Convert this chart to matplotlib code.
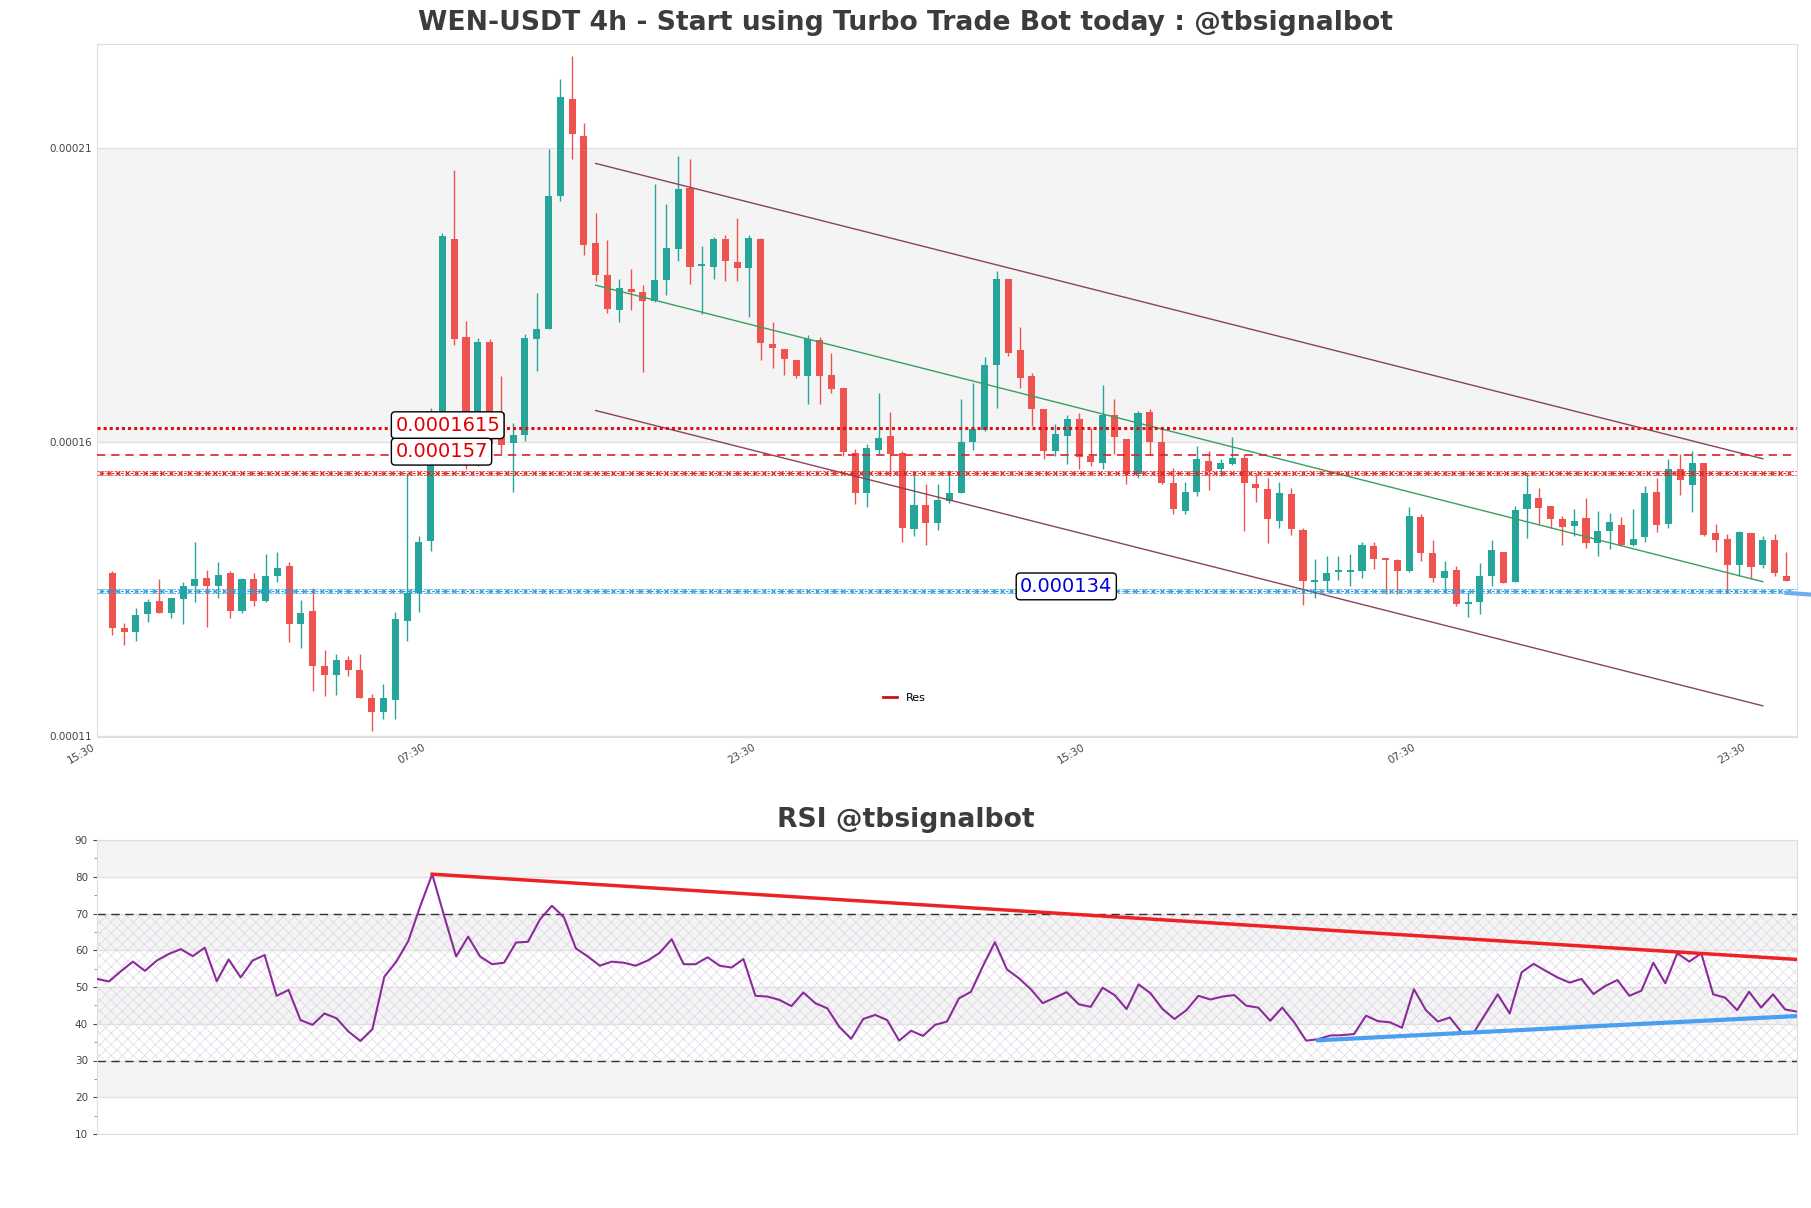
import matplotlib
matplotlib.use("Agg")
import matplotlib.pyplot as plt
from matplotlib.lines import Line2D
import numpy as np

title = "WEN-USDT 4h - Start using Turbo Trade Bot today : @tbsignalbot"
rsi_title = "RSI @tbsignalbot"

# prices are in units of 1e-5 USDT
opens = [13.76, 12.83, 12.76, 13.07, 13.29, 13.09, 13.33, 13.54, 13.69, 13.55,
         13.77, 13.13, 13.66, 13.30, 13.72, 13.88, 12.90, 13.12, 12.19, 12.04,
         12.29, 12.12, 11.65, 11.40, 11.61, 12.96, 13.42, 14.31, 15.87, 19.44,
         17.78, 15.98, 17.69, 16.49, 15.98, 16.11, 17.74, 17.91, 20.17, 21.83,
         21.20, 19.38, 18.84, 18.24, 18.59, 18.55, 18.39, 18.74, 19.28, 20.32,
         18.99, 18.97, 19.44, 19.06, 18.96, 19.44, 17.66, 17.58, 17.39, 17.12,
         17.73, 17.14, 16.92, 15.80, 15.13, 15.86, 16.09, 15.80, 14.51, 14.92,
         14.61, 14.99, 15.12, 16.00, 16.20, 17.30, 18.76, 17.55, 17.12, 16.56,
         15.84, 16.10, 16.38, 15.75, 15.64, 16.46, 16.05, 15.45, 16.51, 16.00,
         15.29, 14.83, 15.15, 15.68, 15.53, 15.62, 15.73, 15.28, 15.20, 14.65,
         15.11, 14.50, 13.62, 13.64, 13.79, 13.78, 13.81, 14.22, 14.01, 13.99,
         13.81, 14.72, 14.11, 13.69, 13.82, 13.24, 13.27, 13.72, 14.13, 13.61,
         14.86, 15.05, 14.90, 14.68, 14.57, 14.71, 14.27, 14.49, 14.59, 14.25,
         14.38, 15.14, 14.60, 15.54, 15.27, 15.63, 14.44, 14.35, 13.91, 14.44,
         13.91, 14.33, 13.71]
highs = [13.81, 12.91, 13.17, 13.32, 13.67, 13.35, 13.61, 14.29, 13.82, 13.96,
         13.81, 13.69, 13.77, 14.09, 14.13, 13.95, 13.31, 13.52, 12.46, 12.39,
         12.35, 12.39, 11.71, 11.88, 13.10, 15.46, 14.39, 16.58, 19.55, 20.62,
         18.05, 17.77, 17.74, 17.12, 16.32, 17.83, 18.52, 20.98, 22.17, 22.56,
         21.42, 19.89, 19.42, 18.77, 18.93, 18.67, 20.38, 20.04, 20.85, 20.81,
         19.32, 19.48, 19.52, 19.80, 19.51, 19.47, 18.03, 17.58, 17.39, 17.82,
         17.78, 17.50, 16.92, 15.87, 15.96, 16.82, 16.50, 15.85, 15.50, 15.28,
         15.28, 15.52, 16.72, 17.00, 17.44, 18.90, 18.76, 17.95, 17.17, 16.56,
         16.30, 16.45, 16.49, 16.24, 16.96, 16.73, 16.05, 16.52, 16.55, 16.21,
         15.56, 15.32, 15.93, 15.85, 15.70, 16.08, 15.79, 15.46, 15.39, 15.32,
         15.22, 14.54, 14.00, 14.05, 14.06, 14.09, 14.29, 14.30, 14.01, 14.01,
         14.89, 14.77, 14.33, 13.98, 13.88, 13.44, 13.94, 14.33, 14.13, 14.91,
         15.46, 15.22, 14.91, 14.74, 14.85, 15.05, 14.82, 14.78, 14.72, 14.86,
         15.25, 15.38, 15.70, 15.79, 15.84, 15.64, 14.60, 14.43, 14.48, 14.44,
         14.40, 14.43, 14.13]
lows = [12.71, 12.55, 12.62, 12.93, 13.09, 13.01, 12.90, 13.28, 12.85, 13.34,
        13.00, 13.08, 13.21, 13.27, 13.62, 12.59, 12.49, 11.77, 11.68, 11.70,
        12.02, 11.64, 11.09, 11.29, 11.29, 12.62, 13.11, 14.15, 15.85, 17.65,
        15.53, 15.59, 15.90, 15.79, 15.15, 16.02, 17.20, 17.91, 20.09, 20.81,
        19.17, 18.73, 18.19, 18.03, 18.24, 17.19, 18.37, 18.50, 19.07, 18.68,
        18.17, 18.77, 18.73, 18.73, 18.12, 17.39, 17.26, 17.14, 17.09, 16.64,
        16.64, 16.83, 15.75, 14.94, 14.89, 15.79, 15.42, 14.29, 14.40, 14.25,
        14.50, 14.95, 15.12, 15.86, 16.18, 16.58, 17.45, 16.92, 16.27, 15.71,
        15.75, 15.62, 15.53, 15.59, 15.54, 15.79, 15.28, 15.39, 15.77, 15.28,
        14.77, 14.77, 15.08, 15.18, 15.42, 15.60, 14.48, 14.98, 14.27, 14.53,
        14.42, 13.22, 13.35, 13.47, 13.65, 13.55, 13.68, 13.83, 13.41, 13.41,
        13.78, 13.98, 13.62, 13.44, 13.21, 13.02, 13.07, 13.55, 13.59, 13.61,
        14.37, 14.60, 14.54, 14.25, 14.40, 14.19, 14.06, 14.17, 14.23, 14.23,
        14.29, 14.46, 14.53, 15.09, 14.81, 14.40, 14.13, 13.42, 13.72, 13.66,
        13.86, 13.71, 13.64]
closes = [12.83, 12.76, 13.05, 13.27, 13.09, 13.35, 13.54, 13.66, 13.54, 13.74,
          13.13, 13.66, 13.30, 13.71, 13.86, 12.90, 13.08, 12.19, 12.04, 12.29,
          12.12, 11.64, 11.40, 11.64, 12.98, 13.42, 14.30, 15.87, 19.50, 17.74,
          15.96, 17.69, 15.96, 15.94, 16.11, 17.77, 17.91, 20.18, 21.86, 21.23,
          19.34, 18.83, 18.25, 18.61, 18.54, 18.39, 18.74, 19.30, 20.30, 18.97,
          19.00, 19.44, 19.07, 18.96, 19.47, 17.67, 17.60, 17.40, 17.12, 17.75,
          17.12, 16.89, 15.83, 15.13, 15.90, 16.07, 15.79, 14.53, 14.92, 14.61,
          15.01, 15.12, 15.99, 16.21, 17.31, 18.77, 17.51, 17.09, 16.56, 15.85,
          16.13, 16.38, 15.74, 15.66, 16.46, 16.08, 15.46, 16.48, 16.00, 15.30,
          14.85, 15.15, 15.70, 15.50, 15.63, 15.73, 15.29, 15.22, 14.69, 15.12,
          14.51, 13.64, 13.65, 13.77, 13.80, 13.82, 14.25, 14.00, 13.99, 13.81,
          14.74, 14.10, 13.69, 13.81, 13.24, 13.26, 13.71, 14.16, 13.59, 14.84,
          15.11, 14.88, 14.69, 14.55, 14.65, 14.27, 14.49, 14.64, 14.25, 14.35,
          15.12, 14.59, 15.54, 15.35, 15.64, 14.41, 14.33, 13.91, 14.47, 13.87,
          14.33, 13.76, 13.64]

rsi = [52.2, 51.5, 54.3, 56.9, 54.4, 57.2, 59.0, 60.3, 58.4, 60.7,
       51.6, 57.5, 52.6, 57.2, 58.7, 47.6, 49.2, 41.0, 39.7, 42.8,
       41.5, 37.9, 35.3, 38.5, 52.8, 56.9, 62.5, 72.0, 80.7, 69.3,
       58.3, 63.7, 58.3, 56.2, 56.6, 62.1, 62.3, 68.4, 72.1, 69.0,
       60.5, 58.3, 55.8, 56.9, 56.6, 55.8, 57.2, 59.3, 63.0, 56.2,
       56.2, 58.1, 55.8, 55.3, 57.6, 47.6, 47.4, 46.5, 44.8, 48.5,
       45.6, 44.2, 39.2, 35.9, 41.3, 42.4, 41.0, 35.4, 38.1, 36.7,
       39.7, 40.6, 46.9, 48.7, 55.7, 62.2, 54.8, 52.4, 49.4, 45.6,
       47.1, 48.6, 45.3, 44.6, 49.8, 47.8, 44.0, 50.7, 48.3, 44.0,
       41.3, 43.7, 47.6, 46.6, 47.4, 47.8, 44.9, 44.4, 40.8, 44.4,
       40.4, 35.4, 35.8, 36.8, 36.9, 37.2, 42.2, 40.7, 40.4, 38.9,
       49.4, 43.7, 40.6, 41.7, 37.6, 37.6, 42.8, 48.0, 42.8, 54.0,
       56.3, 54.4, 52.6, 51.2, 52.2, 48.1, 50.3, 51.9, 47.6, 49.0,
       56.6, 51.0, 59.2, 56.9, 59.2, 48.0, 47.1, 43.7, 48.7, 44.4,
       48.0, 43.9, 43.3]

tick_pos = [-1.3, 26.7, 54.7, 82.7, 110.7, 138.7]
tick_labels = ["15:30", "07:30", "23:30", "15:30", "07:30", "23:30"]

# trend channel: start x, start price, end x, end price
channel_top = [41, 20.73, 140, 15.71]
channel_mid = [41, 18.66, 140, 13.62]
channel_low = [41, 16.53, 140, 11.51]

res_dotted = 16.24
res_dashed = 15.78
res_cross = 15.47
sup_cross = 13.46
res_labels = ["0.0001615", "0.000157"]
sup_label = "0.000134"
sup_tail = [142, 13.43, 144.2, 13.40]

rsi_res = [28, 80.7, 142, 57.5]
rsi_sup = [102, 35.5, 142, 42.1]

GREEN = "#26a69a"
RED = "#ef5350"
SC = 1e-5


def cross_line(ax, y, color):
    xs = np.arange(-1.0, 143.0, 0.75)
    ys = np.full(len(xs), y * SC)
    ax.plot(xs, ys, color=color, lw=0.7, ls=(0, (3, 2)), marker="x",
            ms=3.5, mew=0.8, zorder=3)
    ax.axhline((y + 0.03) * SC, color=color, lw=0.5, ls=(0, (3, 2)), zorder=3)
    ax.axhline((y - 0.03) * SC, color=color, lw=0.5, ls=(0, (3, 2)), zorder=3)


def style_axes(ax):
    for s in ax.spines.values():
        s.set_color("#dddddd")
    ax.yaxis.grid(True, color="#e2e2e2", lw=1)
    ax.set_axisbelow(True)


fig = plt.figure(figsize=(18.11, 12.08), dpi=100)
ax = fig.add_axes([97 / 1811, 1 - 737 / 1208, 1700 / 1811, 693 / 1208])
ax2 = fig.add_axes([97 / 1811, 1 - 1134 / 1208, 1700 / 1811, 294 / 1208])

# ---- price chart
o = np.array(opens) * SC
h = np.array(highs) * SC
l = np.array(lows) * SC
c = np.array(closes) * SC
x = np.arange(len(o))
cols = np.where(c >= o, GREEN, RED)
body = np.maximum(np.abs(c - o), 0.03 * SC)

ax.vlines(x, l, h, colors=cols, lw=1, zorder=2)
ax.bar(x, body, bottom=np.minimum(o, c), width=0.6, color=cols, lw=0, zorder=2)

for line, col in [(channel_top, "#8b4455"), (channel_mid, "#3a9e62"), (channel_low, "#8b4455")]:
    ax.plot([line[0], line[2]], [line[1] * SC, line[3] * SC], color=col, lw=1, zorder=3)

ax.axhline(res_dotted * SC, color="#dd1111", lw=2.2, ls=(0, (1, 1)), zorder=3)
ax.axhline(res_dashed * SC, color="#dd2222", lw=1.2, ls=(0, (5, 3.5)), zorder=3)
cross_line(ax, res_cross, "#dd2222")
cross_line(ax, sup_cross, "#2a9ad8")
ax.plot([sup_tail[0], sup_tail[2]], [sup_tail[1] * SC, sup_tail[3] * SC],
        color="#6aaef0", lw=3, clip_on=False, zorder=3)

box = dict(boxstyle="round,pad=0.2", fc="white", ec="black", lw=1)
ax.text(24, (res_dotted + 0.04) * SC, res_labels[0], color="#e00000", fontsize=14,
        va="center", ha="left", bbox=box, zorder=5)
ax.text(24, (res_dashed + 0.05) * SC, res_labels[1], color="#e00000", fontsize=14,
        va="center", ha="left", bbox=box, zorder=5)
ax.text(77, (sup_cross + 0.08) * SC, sup_label, color="#0000dd", fontsize=14,
        va="center", ha="left", bbox=box, zorder=5)

ax.axhspan(16e-5, 21e-5, color="#f4f4f4", lw=0, zorder=0)
ax.set_xlim(-1.05, 142.9)
ax.set_ylim(10.98e-5, 22.76e-5)
ax.set_yticks([11e-5, 16e-5, 21e-5])
ax.set_yticklabels(["0.00011", "0.00016", "0.00021"])
ax.set_xticks(tick_pos)
ax.set_xticklabels(tick_labels, rotation=30, ha="right")
ax.tick_params(axis="both", length=0, labelsize=7.5, colors="#444444")
style_axes(ax)
ax.legend(handles=[Line2D([0], [0], color="#cc1111", lw=2)], labels=["Res"],
          loc="lower center", bbox_to_anchor=(0.475, 0.035), frameon=False,
          fontsize=8, handlelength=1.2)

# ---- RSI chart
xr = np.arange(len(rsi))
for lo in [20, 40, 60, 80]:
    ax2.axhspan(lo, lo + 10, color="#f4f4f4", lw=0, zorder=0)
plt.rcParams["hatch.linewidth"] = 0.4
ax2.axhspan(30, 70, facecolor="none", hatch="xxx", edgecolor="#d6cfe0", lw=0, zorder=0.6)
ax2.axhline(70, color="#333333", lw=1, ls=(0, (6, 4)), zorder=2)
ax2.axhline(30, color="#333333", lw=1, ls=(0, (6, 4)), zorder=2)
ax2.plot(xr, rsi, color="#8b2b9b", lw=1.5, zorder=3)
ax2.plot([rsi_res[0], rsi_res[2]], [rsi_res[1], rsi_res[3]], color="#ee2222", lw=2.5, zorder=4)
ax2.plot([rsi_sup[0], rsi_sup[2]], [rsi_sup[1], rsi_sup[3]], color="#4a9ff0", lw=3, zorder=4)
ax2.set_xlim(0, len(rsi) - 1)
ax2.set_ylim(10, 90)
ax2.set_yticks(range(10, 91, 10))
ax2.set_yticks(range(15, 90, 10), minor=True)
ax2.set_xticks([])
ax2.tick_params(axis="y", which="major", length=3, labelsize=7.5, colors="#444444")
ax2.tick_params(axis="y", which="minor", length=2, colors="#888888")
style_axes(ax2)

fig.text(0.5, 1 - 23 / 1208, title, ha="center", va="center", fontsize=19.2,
         fontweight="bold", color="#3c3c3c")
fig.text(0.5, 1 - 820 / 1208, rsi_title, ha="center", va="center", fontsize=19.2,
         fontweight="bold", color="#3c3c3c")

fig.savefig("out.png", dpi=100)
